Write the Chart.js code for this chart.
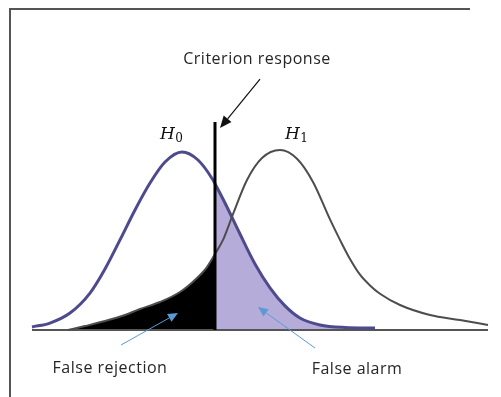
<!DOCTYPE html>
<html>
<head>
<meta charset="utf-8">
<script src="https://cdn.jsdelivr.net/npm/chart.js@4/dist/chart.umd.min.js"></script>
<style>
  html, body { margin: 0; padding: 0; background: #fff; overflow: hidden; width: 501px; height: 397px; }
  canvas { display: block; }
</style>
</head>
<body>
<canvas id="c" width="501" height="397"></canvas>
<script>
// ---- data (response score, relative density) ----
const h0Score   = [-3.75, -3.3, -2.8, -2.3, -1.925, -1.55, -1.175, -0.8, -0.425, 0, 0.4, 0.775, 0.825, 1.075, 1.45, 1.825, 2.2, 2.575, 2.95, 3.45, 4.075, 4.825];
const h0Density = [ 1.7,  3.9,  9.5, 20.7,  34.2,  50.5,  67.3,  82.4,  94.2, 99.8, 95.3, 84.1, 82.0, 71.2, 53.8, 37.0, 23.6, 13.5, 6.7, 2.8, 1.4, 1.1];

const h1Score   = [-2.85, -2.425, -1.925, -1.425, -1.05, -0.55, -0.05, 0.375, 0.625, 0.825, 1.025, 1.275, 1.625, 2.0, 2.45, 2.875, 3.275, 3.7, 3.95, 4.2, 4.45, 4.7, 4.95, 5.45, 6.2, 6.95, 7.65];
const h1Density = [ 0,    2.2,   5.0,   8.4,  11.8, 15.7, 21.3, 29.2, 35.3, 42.6, 50.5, 65.0, 84.1, 96.4, 100.9, 96.0, 83.0, 62.0, 50.5, 39.8, 31.0, 25.0, 20.3, 14.0, 8.4, 5.6, 2.8];

const criterionScore = 0.825;
const criterionTop   = 116.6;
const axisRange      = [-3.75, 7.65];

const labels = ["Criterion response", "False rejection", "False alarm"];
const labelPos = [[1.875, 151.9], [-1.8, -21.3], [4.375, -21.9]];
const hypothesisNames = ["H", "H"];
const hypothesisSubs  = ["0", "1"];
const hypothesisPos   = [[-0.55, 107.1], [2.575, 107.1]];

// arrows: [fromScore, fromDensity, toScore, toDensity]
const arrowCriterion = [1.95, 140.7, 0.95, 113.2];
const arrowRejection = [-1.525, -8.4, -0.1, 9.5];
const arrowAlarm     = [3.325, -10.1, 1.9, 12.9];

// ---- build datasets ----
const pts = (xs, ys) => xs.map((x, i) => ({ x, y: ys[i] }));
const h0 = pts(h0Score, h0Density);
const h1 = pts(h1Score, h1Density);
const falseAlarm = h0.filter(p => p.x >= criterionScore);
const falseReject = h1.filter(p => p.x <= criterionScore);

const common = { pointRadius: 0, cubicInterpolationMode: 'monotone', showLine: true, clip: false };

const frame = {
  id: 'frame',
  beforeDraw(chart) {
    const ctx = chart.ctx;
    ctx.save();
    ctx.fillStyle = '#fff';
    ctx.fillRect(0, 0, chart.width, chart.height);
    ctx.fillStyle = '#555';
    ctx.fillRect(9, 8, 461, 2);
    ctx.fillRect(9, 8, 2, chart.height - 8);
    ctx.restore();
  }
};

const annotate = {
  id: 'annotate',
  afterDatasetsDraw(chart) {
    const ctx = chart.ctx, xs = chart.scales.x, ys = chart.scales.y;
    const X = v => xs.getPixelForValue(v), Y = v => ys.getPixelForValue(v);
    ctx.save();
    ctx.fillStyle = '#262626';
    ctx.textAlign = 'center';
    ctx.textBaseline = 'middle';
    ctx.font = '16px "Open Sans"';
    try { ctx.letterSpacing = '0.5px'; } catch (e) {}
    labels.forEach((t, i) => ctx.fillText(t, X(labelPos[i][0]), Y(labelPos[i][1])));
    try { ctx.letterSpacing = '0px'; } catch (e) {}

    ctx.textAlign = 'left';
    ctx.textBaseline = 'alphabetic';
    ctx.fillStyle = '#111';
    hypothesisNames.forEach((t, i) => {
      const x = X(hypothesisPos[i][0]), y = Y(hypothesisPos[i][1]);
      ctx.font = 'italic 17px "DejaVu Serif"';
      ctx.fillText(t, x, y);
      const w = ctx.measureText(t).width;
      ctx.font = '12px "DejaVu Serif"';
      ctx.fillText(hypothesisSubs[i], x + w + 0.5, y + 3);
    });

    function arrow(a, color, lw, hl, hw) {
      const x1 = X(a[0]), y1 = Y(a[1]), x2 = X(a[2]), y2 = Y(a[3]);
      const ang = Math.atan2(y2 - y1, x2 - x1);
      const bx = x2 - hl * Math.cos(ang), by = y2 - hl * Math.sin(ang);
      ctx.strokeStyle = color; ctx.fillStyle = color; ctx.lineWidth = lw;
      ctx.beginPath(); ctx.moveTo(x1, y1); ctx.lineTo(bx, by); ctx.stroke();
      ctx.beginPath();
      ctx.moveTo(x2, y2);
      ctx.lineTo(bx + hw / 2 * Math.sin(ang), by - hw / 2 * Math.cos(ang));
      ctx.lineTo(bx - hw / 2 * Math.sin(ang), by + hw / 2 * Math.cos(ang));
      ctx.closePath(); ctx.fill();
    }
    arrow(arrowCriterion, '#111', 1.2, 12, 10);
    arrow(arrowRejection, '#5b9bd5', 1, 10, 9);
    arrow(arrowAlarm, '#5b9bd5', 1, 10, 9);
    ctx.restore();
  }
};

new Chart(document.getElementById('c'), {
  type: 'line',
  data: {
    datasets: [
      { ...common, label: 'criterion', data: [{ x: criterionScore, y: 0 }, { x: criterionScore, y: criterionTop }],
        borderColor: '#000', borderWidth: 3, fill: false, order: 1, cubicInterpolationMode: 'default', tension: 0 },
      { ...common, label: 'H1', data: h1, borderColor: '#4d4d4d', borderWidth: 2, fill: false, order: 2 },
      { ...common, label: 'H0', data: h0, borderColor: '#4e4a8e', borderWidth: 3, fill: false, order: 3 },
      { ...common, label: 'baseline', data: [{ x: axisRange[0], y: 0 }, { x: axisRange[1], y: 0 }],
        borderColor: '#555', borderWidth: 2, fill: false, order: 4, cubicInterpolationMode: 'default', tension: 0 },
      { ...common, label: 'False rejection', data: falseReject, borderWidth: 0, borderColor: 'rgba(0,0,0,0)',
        backgroundColor: '#000', fill: 'origin', order: 5 },
      { ...common, label: 'False alarm', data: falseAlarm, borderWidth: 0, borderColor: 'rgba(0,0,0,0)',
        backgroundColor: '#b6acd9', fill: 'origin', order: 6 }
    ]
  },
  options: {
    responsive: false,
    animation: false,
    devicePixelRatio: 1,
    layout: { padding: { left: 0, right: 0, top: 0, bottom: 67 } },
    plugins: { legend: { display: false }, tooltip: { enabled: false } },
    scales: {
      x: { type: 'linear', display: false, min: -4.55, max: 7.975 },
      y: { type: 'linear', display: false, min: 0, max: 185 }
    }
  },
  plugins: [frame, annotate]
});
</script>
</body>
</html>
